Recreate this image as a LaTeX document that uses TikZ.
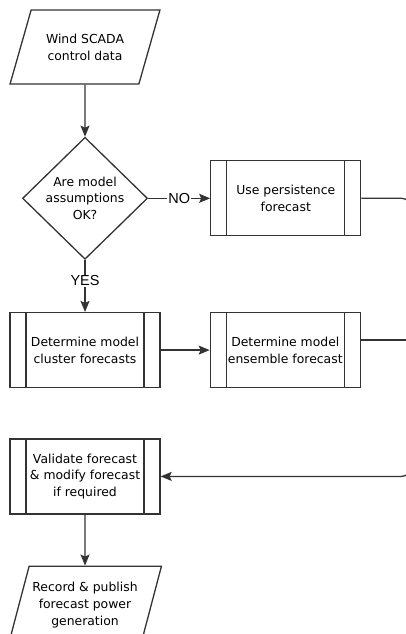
\documentclass[tikz,border=0pt]{standalone}
\usepackage{fontspec}
\setmainfont{DejaVu Sans}
\newfontfamily\labelfont{Liberation Sans}
\usetikzlibrary{positioning,shapes.geometric,arrows.meta}

\begin{document}
\begin{tikzpicture}
    \tikzset{block/.style={
        draw=black!80, line width=1.3pt, font=\fontsize{12.4}{16.8}\selectfont, align=center, inner sep=0pt
      },
      io/.style={block, trapezium, trapezium stretches=true,
        trapezium left angle=60, trapezium right angle=120,
        minimum width=150pt, minimum height=74pt
      },
      decision/.style={block, diamond, minimum width=125pt, minimum height=122pt},
      subproc/.style={block, rectangle, minimum width=150pt, minimum height=75pt,
        path picture={
          \draw[black!80, line width=1.3pt]
            ([xshift=16pt]path picture bounding box.north west) -- ([xshift=16pt]path picture bounding box.south west)
            ([xshift=-16pt]path picture bounding box.north east) -- ([xshift=-16pt]path picture bounding box.south east);
        }
      },
      link/.style={draw=black!80, line width=1.3pt},
      flow/.style={link, -{Stealth[length=11pt, width=9pt, inset=2pt]}},
      answer/.style={font=\labelfont\fontsize{14.5}{14.5}\selectfont, fill=white, inner sep=1pt}
    }
  
    \useasboundingbox (0,0) rectangle (406pt,-634pt);
    \clip (0,0) rectangle (406pt,-634pt);
  
    \node[io] (scada) at (85pt,-47pt) {Wind SCADA\\control data};
    \node[decision] (check) [below=52pt of scada] {Are model\\assumptions\\OK?};
    \node[subproc] (persist) [right=62pt of check] {Use persistence\\forecast};
    \node[subproc] (cluster) [below=52pt of check] {Determine model\\cluster forecasts};
    \node[subproc] (ensemble) [right=49pt of cluster] {Determine model\\ensemble forecast};
    \node[subproc] (validate) [below=50pt of cluster] {Validate forecast\\\& modify forecast\\if required};
    \node[io, trapezium left angle=67, trapezium right angle=113,
      minimum width=153pt, minimum height=78pt] (record) [below=51pt of validate]
      {Record \& publish\\forecast power\\generation};
  
    \coordinate[right=50pt of persist] (trunk);
  
    \draw[flow] (scada) -- (check);
    \draw[flow] (check) -- (persist) node[midway, answer] {NO};
    \draw[flow] (check) -- (cluster) node[pos=0.4, answer] {YES};
    \draw[flow] (cluster) -- (ensemble);
    \draw[flow, rounded corners=10pt] (persist.east) -- (trunk) |- (validate.east);
    \draw[link] ([yshift=10pt]ensemble.east) -- ([yshift=10pt]ensemble.east -| trunk);
    \draw[flow] (validate) -- (record);
  \end{tikzpicture}
\end{document}
